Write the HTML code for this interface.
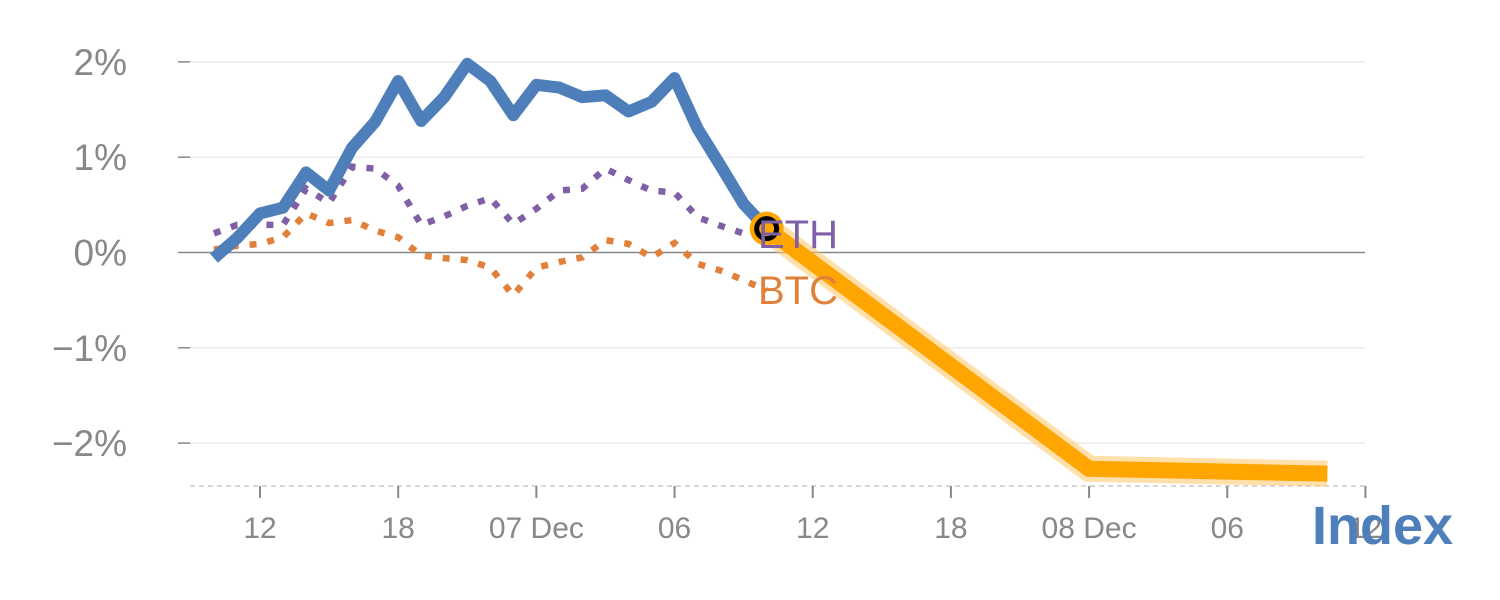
<!DOCTYPE html>
<html><head><meta charset="utf-8"><style>
html,body{margin:0;padding:0;background:#fff;}
svg{display:block;font-family:"Liberation Sans",sans-serif;}
</style></head><body>
<svg id="chart" width="1500" height="600"></svg>
<script>
const xTickLabels=["12","18","07 Dec","06","12","18","08 Dec","06","12"];
const xTickHours=[0,6,12,18,24,30,36,42,48];
const yTicks=[2,1,0,-1,-2];
const yTickLabels=["2%","1%","0%","\u22121%","\u22122%"];
const seriesHours=[-2,-1,0,1,2,3,4,5,6,7,8,9,10,11,12,13,14,15,16,17,18,19,20,21,22];
const indexValues=[-0.06,0.15,0.41,0.47,0.84,0.65,1.10,1.37,1.80,1.38,1.63,1.98,1.80,1.44,1.76,1.73,1.63,1.65,1.48,1.58,1.83,1.30,0.91,0.51,0.25];
const ethValues=[0.20,0.29,0.29,0.29,0.67,0.52,0.90,0.88,0.70,0.29,0.38,0.49,0.57,0.30,0.46,0.65,0.67,0.88,0.76,0.65,0.63,0.37,0.28,0.20,0.22];
const btcValues=[0.03,0.07,0.09,0.16,0.41,0.31,0.34,0.23,0.16,-0.03,-0.06,-0.08,-0.16,-0.45,-0.16,-0.10,-0.05,0.13,0.09,-0.05,0.10,-0.12,-0.19,-0.29,-0.40];
const forecastHours=[22,36,46.35];
const forecastValues=[0.25,-2.27,-2.32];

const NS="http://www.w3.org/2000/svg";
const svg=document.getElementById('chart');
const xs=h=>260+h*23.03;
const ys=v=>252.5-v*95.3;
function mk(tag,attrs,parent){const e=document.createElementNS(NS,tag);for(const k in attrs)e.setAttribute(k,attrs[k]);(parent||svg).appendChild(e);return e;}
function pts(hs,vs){return hs.map((h,i)=>xs(h).toFixed(1)+','+ys(vs[i]).toFixed(1)).join(' ');}

yTicks.forEach((v,i)=>{
  const g=mk('line',{x1:190,x2:1365,y1:ys(v),y2:ys(v),stroke:v===0?'#888':'#e6e6e6','stroke-width':v===0?1.5:1.2});
  
  
  const t=mk('line',{x1:178,x2:190,y1:ys(v),y2:ys(v),stroke:'#888','stroke-width':1.5});
  
  
  const l=mk('text',{x:127,y:ys(v)+13,'text-anchor':'end','font-size':37,fill:'#888'});
  l.textContent=yTickLabels[i];
  
  
});
const ax=mk('line',{x1:190,x2:1365,y1:486,y2:486,stroke:'#ccc','stroke-width':1.5,'stroke-dasharray':'5,4'});


xTickHours.forEach((h,i)=>{
  const t=mk('line',{x1:xs(h),x2:xs(h),y1:486,y2:498,stroke:'#888','stroke-width':2});
  
  
  const l=mk('text',{x:xs(h),y:538,'text-anchor':'middle','font-size':30,fill:'#888'});
  l.textContent=xTickLabels[i];
  
  
});

const eth=mk('polyline',{points:pts(seriesHours,ethValues),fill:'none',stroke:'#7f5fa5','stroke-width':6.5,'stroke-dasharray':'7,11'});


const btc=mk('polyline',{points:pts(seriesHours,btcValues),fill:'none',stroke:'#e0803a','stroke-width':6.5,'stroke-dasharray':'7,11'});


const idx=mk('polyline',{points:pts(seriesHours,indexValues),fill:'none',stroke:'#4e7fbb','stroke-width':12,'stroke-linejoin':'round'});



const halo=mk('polyline',{points:pts(forecastHours,forecastValues),fill:'none',stroke:'#ffc766','stroke-opacity':0.55,'stroke-width':26});


const fc=mk('polyline',{points:pts(forecastHours,forecastValues),fill:'none',stroke:'#ffa500','stroke-width':16});



const cx=xs(forecastHours[0]),cy=ys(forecastValues[0]);
const c1=mk('circle',{cx:cx,cy:cy,r:17,fill:'#ffa500'});


const c2=mk('circle',{cx:cx,cy:cy,r:10,fill:'none',stroke:'#000','stroke-width':5});



const le=mk('text',{x:758,y:248,'font-size':40,fill:'#7f5fa5'});
le.textContent='ETH';


const lb=mk('text',{x:758,y:304,'font-size':40,fill:'#e0803a'});
lb.textContent='BTC';


const li=mk('text',{x:1312,y:544,'font-size':54,'font-weight':'bold',fill:'#4e7fbb'});
li.textContent='Index';


</script>
</body></html>
